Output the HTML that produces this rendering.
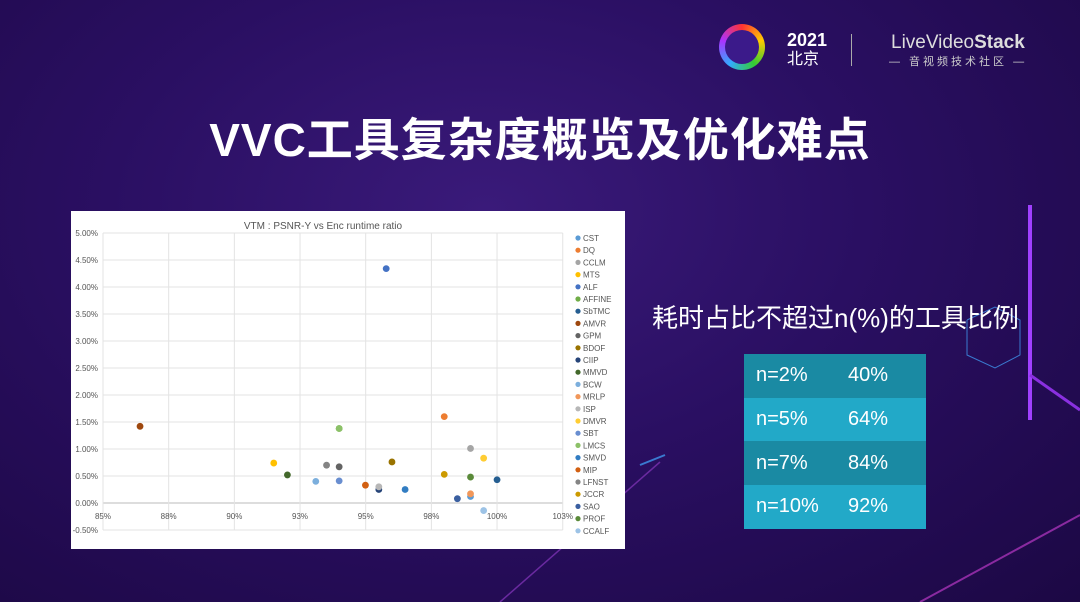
<!DOCTYPE html>
<html><head><meta charset="utf-8">
<style>
html,body{margin:0;padding:0;}
body{width:1080px;height:602px;overflow:hidden;position:relative;font-family:"Liberation Sans","Noto Sans CJK SC",sans-serif;
background:radial-gradient(ellipse at 45% 35%,#3a1a7a 0%,#2a0f62 45%,#1c0844 100%);}
.abs{position:absolute;}
#title{left:0;width:1080px;top:104px;text-align:center;color:#fff;font-size:46px;font-weight:bold;letter-spacing:1px;}
#sub{left:652px;top:298px;color:#fff;font-size:26px;white-space:nowrap;}
table{border-collapse:collapse;}
td{color:#fff;font-size:20px;padding:0 0 0 12px;height:43.7px;}
</style></head><body>
<svg class="abs" style="left:0;top:0" width="1080" height="602">
<line x1="1030" y1="205" x2="1030" y2="420" stroke="#a040ff" stroke-width="4"/>
<line x1="1030" y1="375" x2="1080" y2="410" stroke="#8a30e0" stroke-width="3"/>
<polyline points="967,320 967,355 995,368 1020,355 1020,320 995,307 967,320" fill="none" stroke="#3a7ad0" stroke-width="1"/>
<line x1="920" y1="602" x2="1080" y2="515" stroke="#8a2aa0" stroke-width="2"/>
<line x1="500" y1="602" x2="660" y2="462" stroke="#6a2aa0" stroke-width="1.5"/>
<line x1="640" y1="465" x2="665" y2="455" stroke="#3a7ad0" stroke-width="2"/>
</svg>
<div class="abs" style="left:719px;top:24px;width:46px;height:46px;border-radius:50%;background:conic-gradient(#f33,#fc0,#3c3,#3af,#a3f,#f33);"><div style="position:absolute;left:6px;top:6px;width:34px;height:34px;border-radius:50%;background:#3b1a8a;"></div></div>
<div class="abs" style="left:787px;top:31px;color:#fff;font-weight:bold;font-size:18px;line-height:18px">2021<br><span style="font-weight:normal;font-size:16px">北京</span></div>
<div class="abs" style="left:851px;top:34px;width:1px;height:32px;background:#aaa"></div>
<div class="abs" style="left:891px;top:32px;color:#ddd;font-size:19px">LiveVideo<b>Stack</b></div>
<div class="abs" style="left:889px;top:53px;color:#ccc;font-size:11px;letter-spacing:3px">— 音视频技术社区 —</div>
<div id="title" class="abs">VVC工具复杂度概览及优化难点</div>
<div id="sub" class="abs">耗时占比不超过n(%)的工具比例</div>
<table class="abs" style="left:744px;top:354px;width:182px">
<colgroup><col style="width:104px"><col></colgroup>
<tr style="background:#1a8aa3"><td>n=2%</td><td style="padding-left:0">40%</td></tr>
<tr style="background:#22a9c8"><td>n=5%</td><td style="padding-left:0">64%</td></tr>
<tr style="background:#1a8aa3"><td>n=7%</td><td style="padding-left:0">84%</td></tr>
<tr style="background:#22a9c8"><td>n=10%</td><td style="padding-left:0">92%</td></tr>
</table>
<svg id="chart" class="abs" style="left:71px;top:211px" width="554" height="338"></svg>
<script>
const names=["CST","DQ","CCLM","MTS","ALF","AFFINE","SbTMC","AMVR","GPM","BDOF","CIIP","MMVD","BCW","MRLP","ISP","DMVR","SBT","LMCS","SMVD","MIP","LFNST","JCCR","SAO","PROF","CCALF"];
const colors=["#5B9BD5","#ED7D31","#A5A5A5","#FFC000","#4472C4","#70AD47","#255E91","#9E480E","#636363","#997300","#264478","#43682B","#7CAFDD","#F1975A","#B7B7B7","#FFCD33","#698ED0","#8CC168","#327DC2","#D26012","#848484","#CC9A00","#3A5FA0","#5A8A39","#9DC3E6"];
const xVals=[98.99,97.99,98.99,91.5,95.78,93.99,100,86.41,93.99,96.0,95.5,92.02,93.1,98.99,95.5,99.49,93.99,93.99,96.5,94.99,93.51,97.99,98.49,98.99,99.49];
const yVals=[0.12,1.60,1.01,0.74,4.34,1.38,0.43,1.42,0.67,0.76,0.25,0.52,0.40,0.17,0.30,0.83,0.41,1.38,0.25,0.33,0.70,0.53,0.08,0.48,-0.14];
const xTicks=[85,87.5,90,92.5,95,97.5,100,102.5];
const xTickLabels=["85%","88%","90%","93%","95%","98%","100%","103%"];
const yTicks=[5,4.5,4,3.5,3,2.5,2,1.5,1,0.5,0,-0.5];
const NS="http://www.w3.org/2000/svg";
const svg=document.getElementById('chart');
const ox=71,oy=211;
function sx(v){return 103-ox+(v-85)*26.27;}
function sy(v){return 503-oy-v*54;}
function mk(t,a,txt){const e=document.createElementNS(NS,t);for(const k in a)e.setAttribute(k,a[k]);if(txt!==undefined)e.textContent=txt;svg.appendChild(e);return e;}
mk('rect',{x:0,y:0,width:554,height:338,fill:'#fff'});
const t=mk('text',{x:252,y:18,'font-size':10,fill:'#555','text-anchor':'middle'},'VTM : PSNR-Y vs Enc runtime ratio');


yTicks.forEach(v=>{
 const g=mk('line',{x1:sx(85),x2:sx(102.5),y1:sy(v),y2:sy(v),stroke:v===0?'#bbb':'#e3e3e3','stroke-width':1});
 
 
 const l=mk('text',{x:27,y:sy(v)+3,'font-size':8,fill:'#555','text-anchor':'end'},v.toFixed(2)+'%');
 
 
});
xTicks.forEach((v,i)=>{
 const g=mk('line',{x1:sx(v),x2:sx(v),y1:sy(5),y2:sy(-0.5),stroke:'#e3e3e3','stroke-width':1});
 
 
 const l=mk('text',{x:sx(v),y:sy(0)+16,'font-size':8,fill:'#555','text-anchor':'middle'},xTickLabels[i]);
 
 
});
names.forEach((n,i)=>{
 const c=mk('circle',{cx:sx(xVals[i]),cy:sy(yVals[i]),r:3.4,fill:colors[i]});
 
 
 const ly=27+i*12.2;
 const d=mk('circle',{cx:507,cy:ly,r:2.6,fill:colors[i]});
 
 
 const lt=mk('text',{x:512,y:ly+3,'font-size':8,fill:'#555'},n);
 
 
});
</script>
</body></html>
